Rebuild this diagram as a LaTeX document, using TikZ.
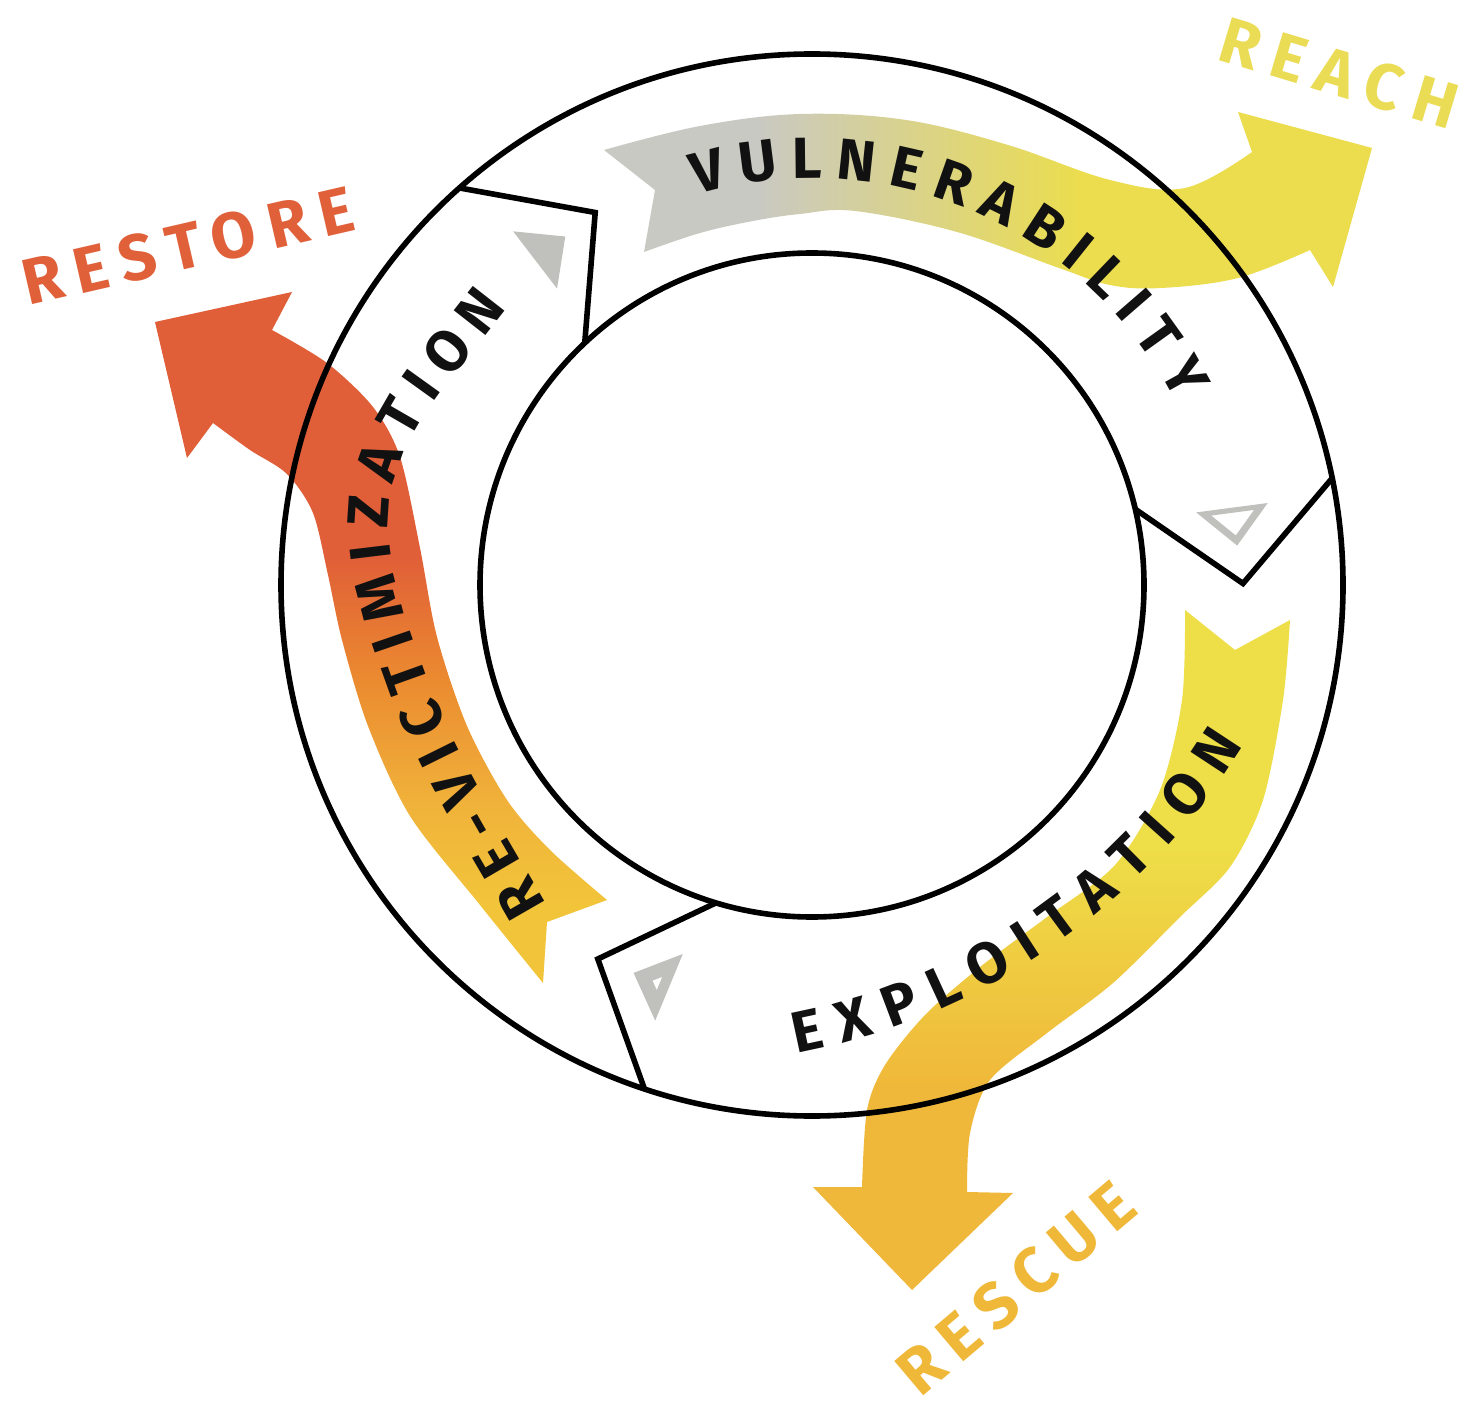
\documentclass[tikz,border=0pt]{standalone}
\usepackage{fontspec}
\usetikzlibrary{calc,decorations.text}
\newfontfamily\ringfont{Fira Sans}
\newfontfamily\labelfont[LetterSpace=20]{Fira Sans}
\newcommand\ringstyle{\ringfont\bfseries\fontsize{14.5}{14.5}\selectfont}
\definecolor{vgrey}{HTML}{C9C9C3}
\definecolor{vyel}{HTML}{EBDD4E}
\definecolor{rred}{HTML}{E05E38}
\definecolor{rorange}{HTML}{EB8A30}
\definecolor{ryelor}{HTML}{F0B23A}
\definecolor{ryel}{HTML}{F2C43A}
\definecolor{eyel}{HTML}{EEDF48}
\definecolor{eorange}{HTML}{F0B83A}
\definecolor{trigrey}{HTML}{C0C0BC}
\definecolor{reachcol}{HTML}{EBDC55}
\definecolor{restorecol}{HTML}{E0603A}
\definecolor{rescuecol}{HTML}{F0B838}
\definecolor{inkcol}{HTML}{111111}
\pgfdeclarehorizontalshading{shadeA}{100bp}{color(0bp)=(vgrey); color(35bp)=(vgrey); color(56bp)=(vyel); color(100bp)=(vyel)}
\pgfdeclareverticalshading{shadeB}{100bp}{color(0bp)=(ryel); color(31bp)=(ryel); color(38bp)=(ryelor); color(47bp)=(rorange); color(56bp)=(rred); color(100bp)=(rred)}
\pgfdeclareverticalshading{shadeC}{100bp}{color(0bp)=(eorange); color(40bp)=(eorange); color(58bp)=(eyel); color(100bp)=(eyel)}
\begin{document}
\begin{tikzpicture}[x=0.25pt,y=-0.25pt,
  ring/.style={draw=black, line width=1.4pt},
  divider/.style={draw=black, line width=1.4pt, line join=miter},
  ringtext/.style={decorate, decoration={text along path, text align={fit to path}, text={|\ringstyle\color{inkcol}|#1}}},
  lbl/.style={font=\labelfont\bfseries\fontsize{16.2}{16.2}\selectfont, inner sep=0pt}
]
\useasboundingbox[fill=white] (0,0) rectangle (1474,1410);
\coordinate (C) at (812,585);
% ribbon A: vulnerability -> reach
\shade[shading=shadeA] plot[smooth, tension=0.6] coordinates {(604,150) (700,126) (800,114) (906,120) (1008,145) (1110,180) (1185,188) (1252,152)}
  -- (1238,112) -- (1372,148) -- (1333,287) -- (1310,250)
  -- plot[smooth, tension=0.6] coordinates {(1310,250) (1238,278) (1161,288) (1110,285) (1059,268) (957,232) (855,211) (800,214) (753,221) (700,233) (644,252)}
  -- (655,190) -- cycle;
% ribbon B: re-victimization -> restore
\shade[shading=shadeB] plot[smooth] coordinates {(272,330) (327,363) (373,407) (400,457) (420,548) (437,637) (467,726) (507,800) (550,850) (607,900)}
  -- (547,922) -- (543,983)
  -- plot[smooth] coordinates {(543,983) (480,905) (410,816) (368,726) (342,640) (328,575) (313,513) (287,474) (250,450) (213,423)}
  -- (187,458) -- (155,322) -- (292,292) -- cycle;
% ribbon C: exploitation -> rescue
\shade[shading=shadeC] plot[smooth] coordinates {(1185,610) (1182,700) (1160,790) (1115,865) (1047,917) (980,967) (925,1015) (885,1065) (867,1110) (862,1187)}
  -- (813,1187) -- (912,1290) -- (1013,1193) -- (967,1192)
  -- plot[smooth] coordinates {(967,1192) (970,1133) (990,1080) (1047,1033) (1113,983) (1180,917) (1230,867) (1263,800) (1283,700) (1290,620)}
  -- (1235,650) -- cycle;
% ring
\draw[ring] (C) circle[radius=531];
\draw[ring] (C) circle[radius=332];
\foreach \p/\n in {131.6/a, 11.6/b, 251.6/c}{
  \coordinate (out\n) at ($(C)+({-\p}:531)$);
  \coordinate (tip\n) at ($(C)+({-(\p-11.4)}:431)$);
  \coordinate (in\n) at ($(C)+({-(\p+1.6)}:332)$);
  \draw[divider] (out\n) -- (tip\n) -- (in\n);
  \coordinate (ta\n) at ($(C)+({-(\p-6.3)}:427)$);
  \coordinate (tb\n) at ($(C)+({-(\p-1.4)}:463)$);
  \coordinate (tc\n) at ($(C)+({-(\p-0.9)}:391)$);
  \coordinate (tg\n) at ($1/3*(ta\n)+1/3*(tb\n)+1/3*(tc\n)$);
}
% grey markers
\fill[trigrey] (taa) -- (tba) -- (tca) -- cycle;
\fill[trigrey, even odd rule] (tab) -- (tbb) -- (tcb) -- cycle
  ($(tgb)!0.6!(tab)$) -- ($(tgb)!0.6!(tbb)$) -- ($(tgb)!0.6!(tcb)$) -- cycle;
\fill[trigrey, even odd rule] (tac) -- (tbc) -- (tcc) -- cycle
  ($(tgc)!0.2!(tac)$) -- ($(tgc)!0.2!(tbc)$) -- ($(tgc)!0.2!(tcc)$) -- cycle;
% ring texts
\path[ringtext=VULNERABILITY] ($(C)+(-106.5:407)$) arc[start angle=-106.5, end angle=-26.7, radius=407];
\path[ringtext=EXPLOITATION] ($(669,391)+(79.1:675)$) arc[start angle=79.1, end angle=31.7, radius=675];
\path[ringtext=RE-VICTIMIZATION] (546,905) .. controls (503,829) and (456,757) .. (426,675)
  .. controls (405,616) and (378,548) .. (393,487)
  .. controls (410,417) and (464,366) .. (507,308);
% labels
\node[lbl, text=restorecol, rotate=13] (restore) at (188,246) {RESTORE};
\node[lbl, text=reachcol, rotate=-16.7] (reach) at (1339,73) {REACH};
\node[lbl, text=rescuecol, rotate=40.2] (rescue) at (1016,1288) {RESCUE};
\end{tikzpicture}
\end{document}
